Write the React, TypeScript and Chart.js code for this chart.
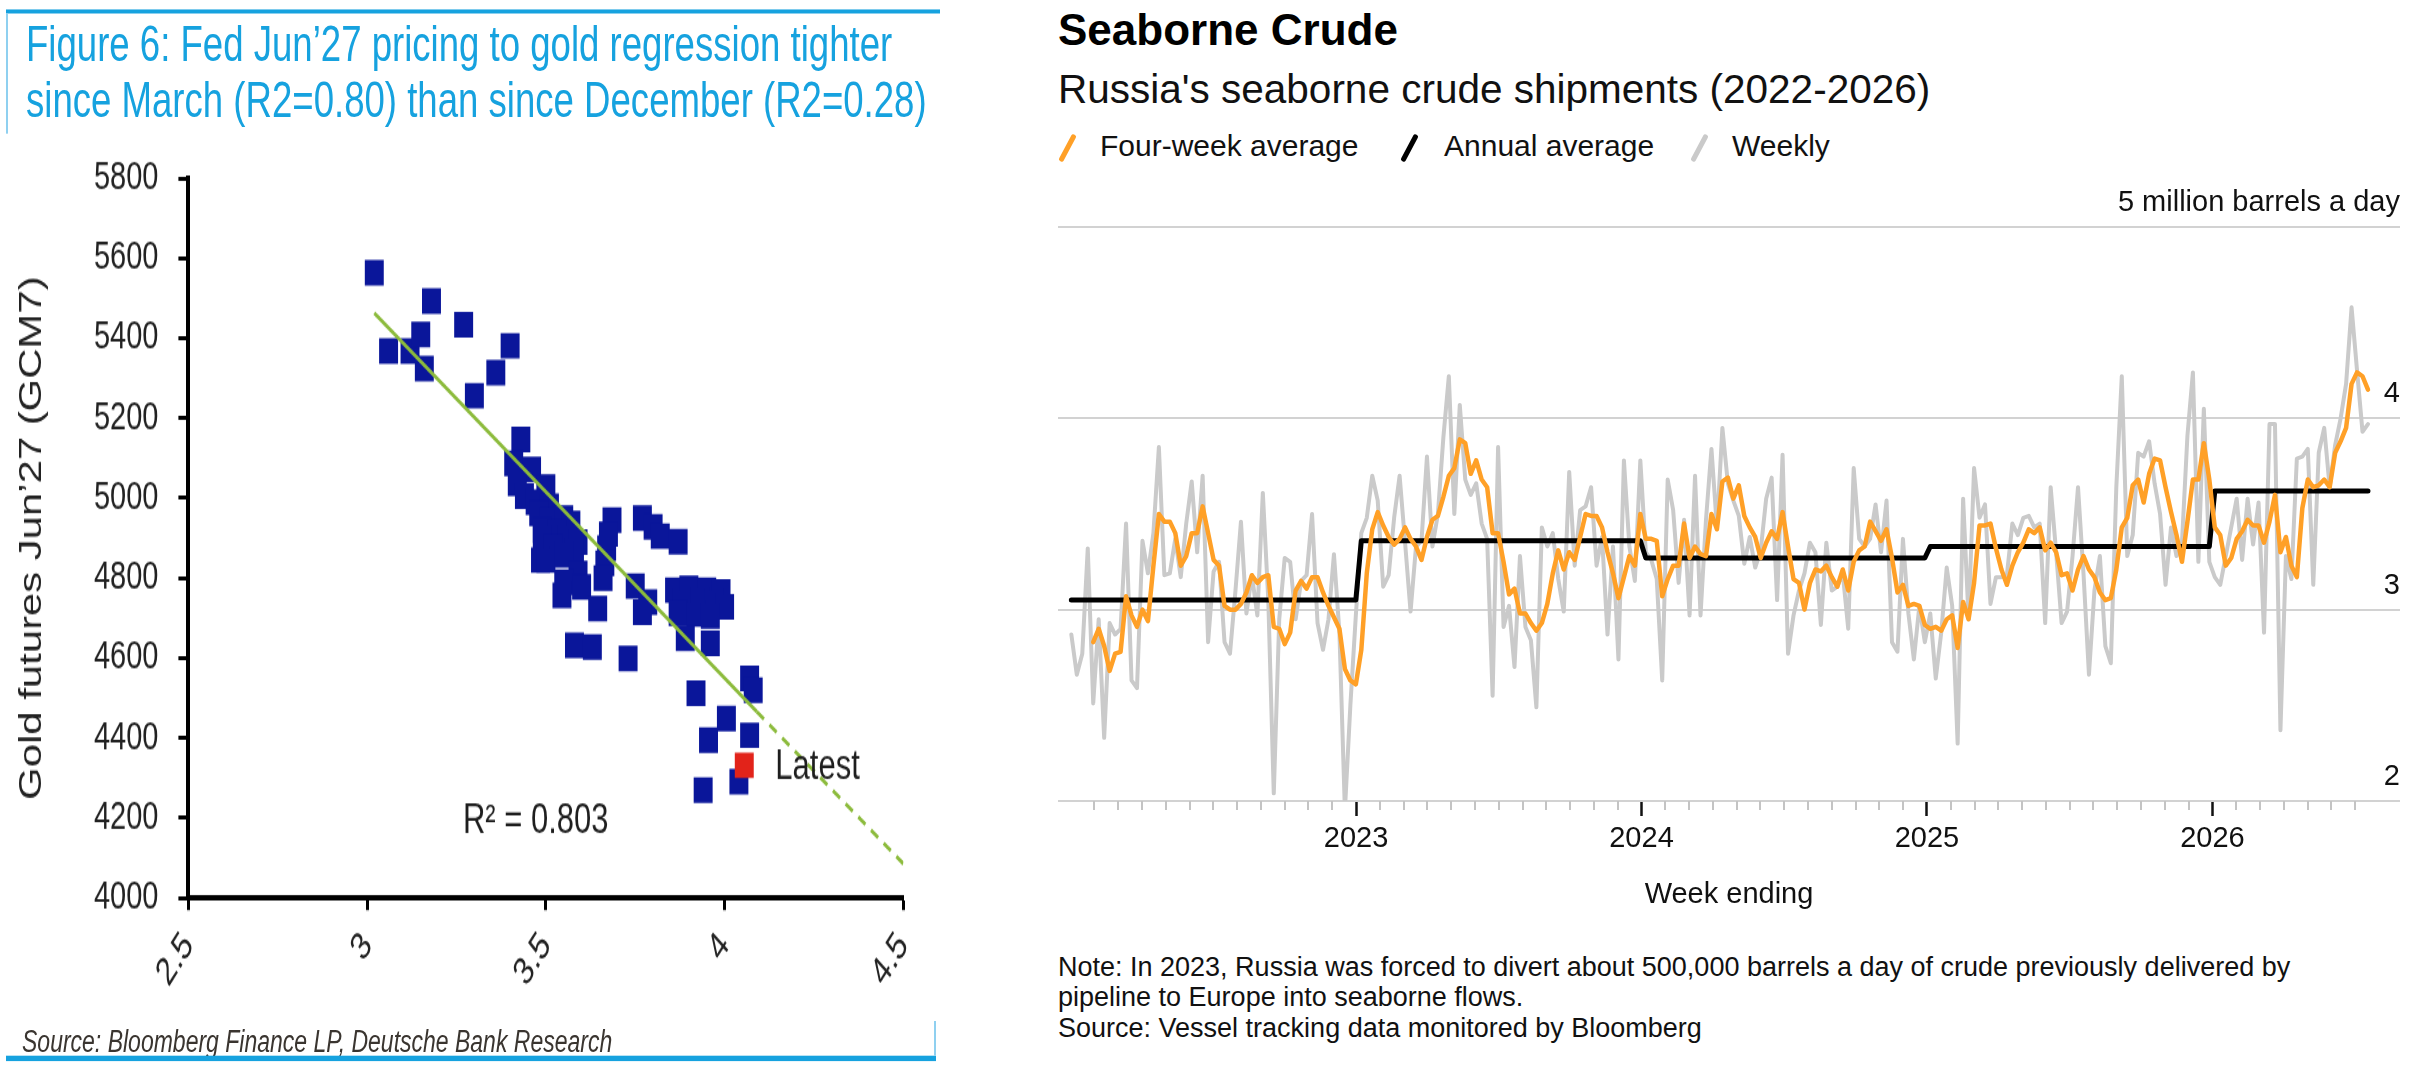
import React, { useEffect, useRef } from 'react';
import { Chart, registerables } from 'chart.js';

Chart.register(...registerables);

const FONT = '"Liberation Sans", Arial, Helvetica, sans-serif';
Chart.defaults.font.family = FONT;
Chart.defaults.color = '#1a1a1a';

// ================= Left: Deutsche Bank Figure 6 =================
const goldTitle1 = 'Figure 6: Fed Jun’27 pricing to gold regression tighter';
const goldTitle2 = 'since March (R2=0.80) than since December (R2=0.28)';
const goldYTitle = 'Gold futures Jun’27 (GCM7)';
const goldSource = 'Source: Bloomberg Finance LP, Deutsche Bank Research';

const fedPricingTicks = [2.5, 3, 3.5, 4, 4.5];
const goldYMin = 4000;
const goldYMax = 5800;
const goldYStep = 200;

const fedPricing = [
  3.02, 3.06, 3.12, 3.15, 3.16, 3.18, 3.27, 3.30, 3.36, 3.40,
  3.43, 3.41, 3.46, 3.42, 3.50, 3.44, 3.47, 3.51, 3.48, 3.51,
  3.55, 3.57, 3.49, 3.53, 3.56, 3.59, 3.49, 3.52, 3.58, 3.485,
  3.50, 3.55, 3.59, 3.55, 3.60, 3.645, 3.58, 3.63, 3.73, 3.685,
  3.675, 3.67, 3.665, 3.66, 3.77, 3.80, 3.82, 3.87, 3.75, 3.785,
  3.77, 3.86, 3.90, 3.95, 3.99, 3.88, 3.93, 3.97, 4.00, 3.87,
  3.92, 3.96, 3.89, 3.96, 3.92, 4.07, 4.08, 4.005, 3.955, 4.07,
  4.04, 3.94, 3.545,
];
const goldFutures = [
  5564, 5368, 5368, 5409, 5324, 5493, 5434, 5256, 5314, 5381,
  5147, 5087, 5072, 5037, 5028, 5005, 4990, 4980, 4962, 4945,
  4950, 4937, 4920, 4915, 4900, 4890, 4900, 4878, 4868, 4845,
  4845, 4858, 4812, 4790, 4778, 4724, 4632, 4628, 4599, 4945,
  4910, 4875, 4837, 4800, 4950, 4928, 4905, 4891, 4780, 4740,
  4715, 4770, 4775, 4770, 4765, 4740, 4745, 4740, 4728, 4712,
  4710, 4705, 4650, 4637, 4512, 4549, 4520, 4449, 4395, 4407,
  4291, 4270, 4757,
];
const latestFed = [4.055];
const latestGold = [4332];
const fitFed = [3.02, 4.09, 4.5];
const fitGold = [5463, 4466, 4086];
const r2Text = 'R² = 0.803';
const r2At = [3.268, 4192];
const latestText = 'Latest';
const latestTextAt = [4.142, 4327];

const S = 1.35; // vertical stretch of the pasted DB figure
const LW = 940;
const LH = 790;
const DB_BLUE = '#16A2DF';
const NAVY = '#0A169A';
const RED = '#E2231A';
const GREEN = '#8CBB3C';

function GoldChart() {
  const ref = useRef<HTMLCanvasElement>(null);
  useEffect(() => {
    const canvas = ref.current as HTMLCanvasElement;
    const points = fedPricing.map((x, i) => ({ x, y: goldFutures[i] }));
    const latest = latestFed.map((x, i) => ({ x, y: latestGold[i] }));
    const fitSolid = [0, 1].map((i) => ({ x: fitFed[i], y: fitGold[i] }));
    const fitDash = [1, 2].map((i) => ({ x: fitFed[i], y: fitGold[i] }));
    const annot = {
      id: 'goldAnnot',
      afterDatasetsDraw(chart: any) {
        const { ctx, scales } = chart;
        ctx.save();
        ctx.fillStyle = '#1e1e1e';
        ctx.textBaseline = 'middle';
        ctx.textAlign = 'left';
        ctx.font = `31px ${FONT}`;
        ctx.fillText(r2Text, scales.x.getPixelForValue(r2At[0]), scales.y.getPixelForValue(r2At[1]));
        ctx.fillText(latestText, scales.x.getPixelForValue(latestTextAt[0]), scales.y.getPixelForValue(latestTextAt[1]));
        ctx.restore();
      },
    };
    const chart = new Chart(canvas, {
      type: 'scatter',
      data: {
        datasets: [
          { type: 'line', data: fitSolid, borderColor: GREEN, borderWidth: 3, pointRadius: 0, order: 0 } as any,
          { type: 'line', data: fitDash, borderColor: GREEN, borderWidth: 3, borderDash: [9, 7], pointRadius: 0, order: 0 } as any,
          { data: latest, pointStyle: 'rect', pointRadius: 13.4, pointHoverRadius: 13.4, backgroundColor: RED, borderWidth: 0, order: 1 },
          { data: points, pointStyle: 'rect', pointRadius: 13.4, pointHoverRadius: 13.4, backgroundColor: NAVY, borderWidth: 0, order: 2 },
        ],
      },
      options: {
        responsive: false,
        animation: false,
        events: [],
        plugins: { legend: { display: false }, tooltip: { enabled: false } },
        layout: { padding: { top: 132, left: 13.4, right: 22, bottom: LH - 665.2 - 90 } },
        scales: {
          x: {
            type: 'linear',
            min: fedPricingTicks[0],
            max: fedPricingTicks[fedPricingTicks.length - 1],
            afterBuildTicks: (s: any) => {
              s.ticks = fedPricingTicks.map((v) => ({ value: v }));
            },
            afterFit: (s: any) => {
              s.height = 90;
            },
            ticks: {
              autoSkip: false,
              minRotation: 50,
              maxRotation: 50,
              padding: 10,
              color: '#222',
              font: { size: 29 },
              callback: (v: any) => String(v),
            },
            grid: { drawOnChartArea: false, drawTicks: true, tickLength: 9, tickWidth: 3, tickColor: '#000' },
            border: { display: true, color: '#000', width: 4 },
          },
          y: {
            min: goldYMin,
            max: goldYMax,
            afterFit: (s: any) => {
              s.width = 175;
            },
            ticks: { stepSize: goldYStep, padding: 20, color: '#222', font: { size: 29 }, callback: (v: any) => String(v) },
            grid: { drawOnChartArea: false, drawTicks: true, tickLength: 10, tickWidth: 3, tickColor: '#000' },
            border: { display: true, color: '#000', width: 4 },
            title: { display: true, text: goldYTitle, color: '#222', font: { size: 31 }, padding: 0 },
          },
        },
      },
      plugins: [annot],
    } as any);
    return () => chart.destroy();
  }, []);
  return (
    <canvas
      ref={ref}
      width={LW}
      height={LH}
      style={{ position: 'absolute', left: 0, top: 0, width: LW, height: LH }}
    />
  );
}

function LeftPanel() {
  const u = (realY: number) => realY / S;
  return (
    <div
      style={{
        position: 'absolute',
        left: 0,
        top: 0,
        width: LW,
        height: LH,
        transform: `scaleY(${S})`,
        transformOrigin: '0 0',
      }}
    >
      <div style={{ position: 'absolute', left: 6, top: u(9.3), width: 934, height: u(4.7), background: DB_BLUE }} />
      <div style={{ position: 'absolute', left: 6, top: u(13), width: 1.5, height: u(120), background: '#8fd0f0' }} />
      <div
        style={{
          position: 'absolute',
          left: 26,
          top: 15,
          font: `36.6px/36px ${FONT}`,
          color: DB_BLUE,
          whiteSpace: 'nowrap',
        }}
      >
        {goldTitle1}
      </div>
      <div
        style={{
          position: 'absolute',
          left: 26,
          top: 56.5,
          font: `36.6px/36px ${FONT}`,
          color: DB_BLUE,
          whiteSpace: 'nowrap',
        }}
      >
        {goldTitle2}
      </div>
      <GoldChart />
      <div
        style={{
          position: 'absolute',
          left: 22,
          top: u(1041) - 11.5,
          font: `italic 23px/23px ${FONT}`,
          color: '#3a3530',
          whiteSpace: 'nowrap',
        }}
      >
        {goldSource}
      </div>
      <div style={{ position: 'absolute', left: 6, top: u(1056), width: 930, height: u(4.5), background: DB_BLUE }} />
      <div style={{ position: 'absolute', left: 934, top: u(1020), width: 1.5, height: u(36), background: '#8fd0f0' }} />
    </div>
  );
}

// ================= Right: Bloomberg Seaborne Crude =================
const crudeTitle = 'Seaborne Crude';
const crudeSubtitle = "Russia's seaborne crude shipments (2022-2026)";
const legendLabels = ['Four-week average', 'Annual average', 'Weekly'];
const xAxisTitle = 'Week ending';
const unitLabel = '5 million barrels a day';
const noteLines = [
  'Note: In 2023, Russia was forced to divert about 500,000 barrels a day of crude previously delivered by',
  'pipeline to Europe into seaborne flows.',
  'Source: Vessel tracking data monitored by Bloomberg',
];

const yearTicks = [2023, 2024, 2025, 2026];
const minorTickYears = [2022, 2023, 2024, 2025, 2026];
const xMin = 2021.956;
const xMax = 2026.657;
const firstWeekEnding = 2022 + 1 / 365.25; // week ending 2 Jan 2022
const weekStep = 7 / 365.25;

// Weekly shipments, million barrels a day (w0 = week ending 2 Jan 2022)
const weekly = [
  2.87, 2.66, 2.77, 3.32, 2.51, 2.95, 2.33, 2.93, 2.87, 2.90,
  3.45, 2.63, 2.59, 3.36, 3.19, 3.40, 3.85, 3.18, 3.19, 3.37,
  3.17, 3.45, 3.67, 3.30, 3.70, 2.83, 3.20, 3.25, 2.83, 2.77,
  3.10, 3.46, 2.98, 3.18, 2.97, 3.61, 3.05, 2.04, 2.95, 3.27,
  3.25, 2.95, 3.15, 3.18, 3.50, 2.93, 2.79, 2.95, 3.29, 2.88,
  1.95, 2.50, 2.97, 3.40, 3.48, 3.70, 3.57, 3.12, 3.18, 3.48,
  3.70, 3.35, 2.99, 3.33, 3.36, 3.80, 3.33, 3.50, 3.90, 4.22,
  3.50, 4.07, 3.68, 3.60, 3.66, 3.45, 3.37, 2.55, 3.85, 2.91,
  3.02, 2.70, 3.28, 2.91, 2.84, 2.49, 3.43, 3.33, 3.40, 3.16,
  2.99, 3.72, 3.23, 3.52, 3.54, 3.64, 3.23, 3.38, 2.87, 3.33,
  2.74, 3.78, 3.33, 3.15, 3.78, 3.30, 3.26, 3.16, 2.63, 3.68,
  3.52, 3.14, 3.47, 2.97, 3.70, 2.97, 3.47, 3.84, 3.43, 3.95,
  3.66, 3.57, 3.49, 3.24, 3.38, 3.22, 3.31, 3.58, 3.69, 3.05,
  3.81, 2.77, 2.97, 3.10, 3.19, 3.35, 3.30, 2.92, 3.35, 3.10,
  3.12, 3.19, 2.90, 3.74, 3.37, 3.33, 3.37, 3.55, 3.30, 3.57,
  2.83, 2.78, 3.37, 2.98, 2.74, 3.02, 2.83, 2.98, 2.64, 2.88,
  3.22, 3.02, 2.30, 3.58, 2.95, 3.74, 3.48, 3.55, 3.03, 3.17,
  3.17, 3.18, 3.45, 3.39, 3.48, 3.49, 3.43, 3.45, 2.93, 3.64,
  3.30, 2.93, 2.99, 3.28, 3.64, 3.19, 2.66, 3.10, 3.28, 2.81,
  2.72, 3.64, 4.22, 3.28, 3.39, 3.82, 3.80, 3.88, 3.66, 3.50,
  3.13, 3.43, 3.28, 3.35, 3.91, 4.24, 3.25, 4.05, 3.25, 3.17,
  3.13, 3.28, 3.43, 3.58, 3.26, 3.58, 3.34, 3.56, 2.88, 3.97,
  3.97, 2.37, 3.28, 3.16, 3.79, 3.80, 3.84, 3.13, 3.82, 3.95,
  3.64, 3.86, 4.00, 4.18, 4.58, 4.25, 3.93, 3.97,
];

const fourWeek = [
  null, null, null, null, 2.83, 2.90, 2.81, 2.68, 2.77, 2.78,
  3.07, 2.97, 2.91, 3.00, 2.94, 3.23, 3.50, 3.46, 3.46, 3.40,
  3.23, 3.28, 3.40, 3.40, 3.54, 3.40, 3.26, 3.23, 3.02, 3.00,
  3.00, 3.03, 3.09, 3.18, 3.14, 3.17, 3.18, 2.91, 2.90, 2.82,
  2.88, 3.10, 3.15, 3.11, 3.17, 3.17, 3.09, 3.02, 2.96, 2.90,
  2.69, 2.63, 2.61, 2.79, 3.19, 3.42, 3.51, 3.44, 3.38, 3.34,
  3.37, 3.43, 3.37, 3.33, 3.26, 3.38, 3.47, 3.49, 3.59, 3.70,
  3.74, 3.89, 3.87, 3.71, 3.78, 3.68, 3.64, 3.40, 3.40, 3.25,
  3.08, 3.11, 2.98, 2.98, 2.93, 2.89, 2.93, 3.03, 3.19, 3.31,
  3.21, 3.30, 3.26, 3.38, 3.50, 3.49, 3.49, 3.43, 3.30, 3.19,
  3.06, 3.17, 3.28, 3.23, 3.50, 3.37, 3.37, 3.36, 3.07, 3.16,
  3.23, 3.23, 3.45, 3.27, 3.33, 3.29, 3.28, 3.50, 3.42, 3.67,
  3.69, 3.58, 3.65, 3.49, 3.43, 3.38, 3.27, 3.35, 3.41, 3.37,
  3.51, 3.33, 3.16, 3.14, 3.00, 3.14, 3.21, 3.20, 3.23, 3.17,
  3.12, 3.21, 3.10, 3.25, 3.31, 3.33, 3.46, 3.41, 3.36, 3.42,
  3.27, 3.09, 3.13, 3.02, 3.03, 3.02, 2.92, 2.90, 2.91, 2.89,
  2.95, 2.97, 2.80, 3.04, 2.95, 3.14, 3.44, 3.44, 3.45, 3.32,
  3.21, 3.13, 3.23, 3.30, 3.35, 3.42, 3.40, 3.43, 3.31, 3.35,
  3.30, 3.18, 3.19, 3.10, 3.21, 3.28, 3.21, 3.17, 3.09, 3.05,
  3.06, 3.21, 3.43, 3.48, 3.65, 3.68, 3.56, 3.71, 3.79, 3.78,
  3.64, 3.51, 3.39, 3.25, 3.46, 3.68, 3.68, 3.87, 3.68, 3.43,
  3.39, 3.23, 3.27, 3.37, 3.41, 3.47, 3.44, 3.44, 3.35, 3.46,
  3.60, 3.30, 3.38, 3.23, 3.17, 3.53, 3.68, 3.64, 3.65, 3.68,
  3.64, 3.82, 3.88, 3.95, 4.18, 4.24, 4.22, 4.15,
];

const annualAvg = [3.05, 3.36, 3.27, 3.33, 3.62];
const annualFirstWeek = [0, 53, 105, 157, 209];
const annualLastWeek = [52, 104, 156, 208, 237];

const ORANGE = '#FFA027';
const GRAY = '#CACACA';

const weekX = (i: number) => firstWeekEnding + i * weekStep;

function CrudeChart() {
  const ref = useRef<HTMLCanvasElement>(null);
  useEffect(() => {
    const canvas = ref.current as HTMLCanvasElement;
    const weeklyPts = weekly.map((v, i) => ({ x: weekX(i), y: v }));
    const fourPts = fourWeek.map((v, i) => ({ x: weekX(i), y: v }));
    const annualPts: { x: number; y: number }[] = [];
    annualAvg.forEach((v, k) => {
      annualPts.push({ x: weekX(annualFirstWeek[k]), y: v });
      annualPts.push({ x: weekX(annualLastWeek[k]), y: v });
    });
    const lastX = weekX(weekly.length - 1);
    const minorTicks = {
      id: 'minorTicks',
      afterDraw(chart: any) {
        const { ctx, chartArea, scales } = chart;
        const x = scales.x;
        ctx.save();
        ctx.strokeStyle = '#c4c4c4';
        ctx.lineWidth = 2;
        minorTickYears.forEach((yr) => {
          for (let m = 1; m < 12; m++) {
            const v = yr + m / 12;
            if (v < x.min || v > lastX) continue;
            const px = Math.round(x.getPixelForValue(v));
            ctx.beginPath();
            ctx.moveTo(px, chartArea.bottom);
            ctx.lineTo(px, chartArea.bottom + 9);
            ctx.stroke();
          }
        });
        ctx.restore();
      },
    };
    const common = { pointRadius: 0, pointHoverRadius: 0, tension: 0, borderJoinStyle: 'round', borderCapStyle: 'round', fill: false };
    const chart = new Chart(canvas, {
      type: 'line',
      data: {
        datasets: [
          { label: legendLabels[0], data: fourPts, borderColor: ORANGE, borderWidth: 4.5, order: 0, ...common },
          { label: legendLabels[1], data: annualPts, borderColor: '#000', borderWidth: 5, order: 1, ...common },
          { label: legendLabels[2], data: weeklyPts, borderColor: GRAY, borderWidth: 4, order: 2, ...common },
        ],
      },
      options: {
        responsive: false,
        animation: false,
        events: [],
        plugins: { legend: { display: false }, tooltip: { enabled: false } },
        layout: { padding: { top: 57, left: 18, right: 16, bottom: 17.6 } },
        scales: {
          x: {
            type: 'linear',
            min: xMin,
            max: xMax,
            afterBuildTicks: (s: any) => {
              s.ticks = yearTicks.map((v) => ({ value: v }));
            },
            afterFit: (s: any) => {
              s.height = 111.4;
            },
            ticks: {
              autoSkip: false,
              maxRotation: 0,
              minRotation: 0,
              padding: 6,
              color: '#111',
              font: { size: 29 },
              callback: (v: any) => String(v),
            },
            grid: { drawOnChartArea: false, drawTicks: true, tickLength: 15, tickWidth: 2.5, tickColor: '#111' },
            border: { display: false },
            title: { display: true, text: xAxisTitle, color: '#111', font: { size: 29 }, padding: 0 },
          },
          y: {
            position: 'right',
            min: 2,
            max: 5,
            afterFit: (s: any) => {
              s.width = 0;
            },
            ticks: {
              stepSize: 1,
              mirror: true,
              padding: 0,
              labelOffset: -24,
              color: '#111',
              font: { size: 29 },
              callback: (v: any) => (v === 5 ? unitLabel : String(v)),
            },
            grid: { color: '#d2d2d2', lineWidth: 2, drawTicks: false },
            border: { display: false },
          },
        },
      },
      plugins: [minorTicks],
    } as any);
    return () => chart.destroy();
  }, []);
  return (
    <canvas
      ref={ref}
      width={1376}
      height={760}
      style={{ position: 'absolute', left: 1040, top: 170, width: 1376, height: 760 }}
    />
  );
}

const legendColors = [ORANGE, '#000', GRAY];
const legendSlashLeft = [1065, 1407, 1696.5];
const legendTextLeft = [1100, 1444, 1732];

function RightPanel() {
  return (
    <>
      <div style={{ position: 'absolute', left: 1058, top: 8, font: `bold 44px/44px ${FONT}`, color: '#000', whiteSpace: 'nowrap' }}>
        {crudeTitle}
      </div>
      <div style={{ position: 'absolute', left: 1058, top: 68.7, font: `40.5px/40px ${FONT}`, color: '#111', whiteSpace: 'nowrap' }}>
        {crudeSubtitle}
      </div>
      {legendLabels.map((lab, i) => (
        <React.Fragment key={lab}>
          <div
            style={{
              position: 'absolute',
              left: legendSlashLeft[i],
              top: 132.5,
              width: 5,
              height: 30,
              borderRadius: 2,
              background: legendColors[i],
              transform: 'rotate(28deg)',
            }}
          />
          <div
            style={{
              position: 'absolute',
              left: legendTextLeft[i],
              top: 131.3,
              font: `30px/30px ${FONT}`,
              color: '#111',
              whiteSpace: 'nowrap',
            }}
          >
            {lab}
          </div>
        </React.Fragment>
      ))}
      <CrudeChart />
      <div
        style={{
          position: 'absolute',
          left: 1058,
          top: 951.7,
          font: `27px/30.5px ${FONT}`,
          color: '#111',
          whiteSpace: 'nowrap',
        }}
      >
        {noteLines.map((l) => (
          <div key={l}>{l}</div>
        ))}
      </div>
    </>
  );
}

export default function App() {
  return (
    <div
      style={{
        position: 'absolute',
        left: 0,
        top: 0,
        width: 2416,
        height: 1079,
        overflow: 'hidden',
        background: '#fff',
        fontFamily: FONT,
      }}
    >
      <LeftPanel />
      <RightPanel />
    </div>
  );
}
